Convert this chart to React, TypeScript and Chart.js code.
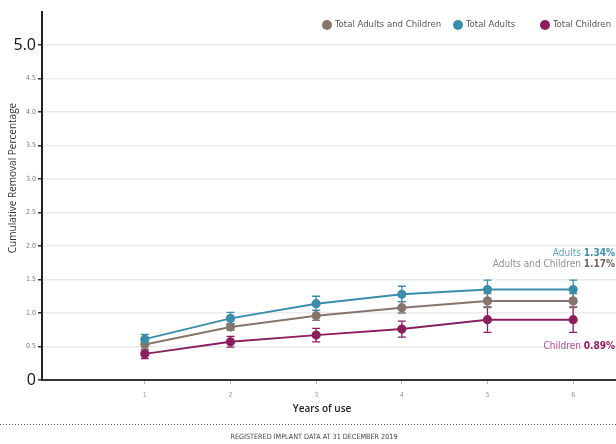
import React, { useEffect, useRef } from "react";
import { Chart, registerables } from "chart.js";

Chart.register(...registerables);

const years = [1, 2, 3, 4, 5, 6];
const yTicks = [0, 0.5, 1, 1.5, 2, 2.5, 3, 3.5, 4, 4.5, 5];

const adults = [0.61, 0.92, 1.14, 1.28, 1.35, 1.35];
const adultsLow = [0.55, 0.84, 1.04, 1.17, 1.22, 1.22];
const adultsHigh = [0.68, 1.01, 1.25, 1.4, 1.49, 1.49];

const allPatients = [0.53, 0.79, 0.96, 1.08, 1.18, 1.18];
const allLow = [0.46, 0.74, 0.89, 1.0, 1.08, 1.08];
const allHigh = [0.59, 0.84, 1.04, 1.17, 1.29, 1.29];

const children = [0.39, 0.57, 0.67, 0.76, 0.9, 0.9];
const childrenLow = [0.32, 0.49, 0.57, 0.64, 0.71, 0.71];
const childrenHigh = [0.45, 0.65, 0.77, 0.88, 1.09, 1.09];

const legendLabels = ["Total Adults and Children", "Total Adults", "Total Children"];
const endLabels = ["Adults", "Adults and Children", "Children"];
const endValues = ["1.34%", "1.17%", "0.89%"];
const endAnchors = [1.89, 1.72, 0.5];

const C_ALL = "#85766d";
const C_AD = "#3a8ea9";
const C_CH = "#8a1f60";

const NARROW = "'Liberation Sans Narrow', 'DejaVu Sans Condensed', 'Open Sans', sans-serif";
const SANS = "'Open Sans', 'Noto Sans', sans-serif";

export default function App() {
  const ref = useRef<HTMLCanvasElement | null>(null);

  useEffect(() => {
    if (!ref.current) return;
    const lows = [allLow, adultsLow, childrenLow];
    const highs = [allHigh, adultsHigh, childrenHigh];
    const colors = [C_ALL, C_AD, C_CH];

    const errorBars = {
      id: "errorBars",
      beforeDatasetsDraw(chart: any) {
        const ctx = chart.ctx;
        const xs = chart.scales.x;
        const ys = chart.scales.y;
        ctx.save();
        [2, 0, 1].forEach((d) => {
          ctx.strokeStyle = colors[d];
          ctx.lineWidth = 1.3;
          years.forEach((yr, i) => {
            const px = xs.getPixelForValue(yr);
            const lo = ys.getPixelForValue(lows[d][i]);
            const hi = ys.getPixelForValue(highs[d][i]);
            ctx.beginPath();
            ctx.moveTo(px, lo);
            ctx.lineTo(px, hi);
            ctx.moveTo(px - 4, lo);
            ctx.lineTo(px + 4, lo);
            ctx.moveTo(px - 4, hi);
            ctx.lineTo(px + 4, hi);
            ctx.stroke();
          });
        });
        ctx.restore();
      },
    };

    const decor = {
      id: "decor",
      afterDraw(chart: any) {
        const ctx = chart.ctx;
        const ys = chart.scales.y;
        const W = chart.width;
        ctx.save();
        // legend
        const legX = [327, 458, 545];
        ctx.font = `9.5px ${NARROW}`;
        ctx.textBaseline = "middle";
        ctx.textAlign = "left";
        legendLabels.forEach((l, i) => {
          ctx.fillStyle = colors[i];
          ctx.beginPath();
          ctx.arc(legX[i], 25, 5, 0, Math.PI * 2);
          ctx.fill();
          ctx.fillStyle = "#555";
          ctx.fillText(l, legX[i] + 8, 25);
        });
        // y title
        ctx.save();
        ctx.translate(13, 178);
        ctx.rotate(-Math.PI / 2);
        ctx.textAlign = "center";
        ctx.fillStyle = "#333";
        ctx.font = `10px ${SANS}`;
        ctx.fillText("Cumulative Removal Percentage", 0, 0);
        ctx.restore();
        // x title
        ctx.textAlign = "center";
        ctx.fillStyle = "#222";
        ctx.font = `600 10px ${SANS}`;
        ctx.fillText("Years of use", 322, 409);
        // dotted line
        ctx.strokeStyle = "#555";
        ctx.lineWidth = 1;
        ctx.setLineDash([1, 2]);
        ctx.beginPath();
        ctx.moveTo(0, 424.5);
        ctx.lineTo(W, 424.5);
        ctx.stroke();
        ctx.setLineDash([]);
        // footer
        ctx.fillStyle = "#444";
        ctx.font = `7.2px ${NARROW}`;
        ctx.fillText("REGISTERED IMPLANT DATA AT 31 DECEMBER 2019", 314, 437);
        // end labels
        const labColors = ["#5ea6bd", "#8f8f8f", "#a8528a"];
        const valColors = [C_AD, "#75665e", C_CH];
        [0, 1, 2].forEach((i) => {
          const y = ys.getPixelForValue(endAnchors[i]);
          ctx.textAlign = "right";
          ctx.font = `bold 10px ${NARROW}`;
          const vw = ctx.measureText(endValues[i]).width;
          ctx.fillStyle = valColors[i];
          ctx.fillText(endValues[i], 615, y);
          ctx.font = `10px ${NARROW}`;
          ctx.fillStyle = labColors[i];
          ctx.fillText(endLabels[i] + " ", 615 - vw, y);
        });
        ctx.restore();
      },
    };

    const mk = (label: string, vals: number[], color: string, order: number) => ({
      label,
      data: years.map((x, i) => ({ x, y: vals[i] })),
      borderColor: color,
      backgroundColor: color,
      pointBackgroundColor: color,
      pointBorderColor: color,
      pointRadius: 3.6,
      borderWidth: 2,
      order,
    });

    const chart = new Chart(ref.current, {
      type: "line",
      data: {
        datasets: [
          mk(legendLabels[0], allPatients, C_ALL, 1),
          mk(legendLabels[1], adults, C_AD, 0),
          mk(legendLabels[2], children, C_CH, 2),
        ],
      },
      options: {
        responsive: false,
        animation: false,
        devicePixelRatio: 1,
        layout: { autoPadding: false, padding: { top: 8, right: 0, left: 0, bottom: 0 } },
        plugins: { legend: { display: false }, tooltip: { enabled: false } },
        scales: {
          x: {
            type: "linear",
            min: -0.2,
            max: 6.5,
            afterBuildTicks: (s: any) => {
              s.ticks = years.map((v) => ({ value: v }));
            },
            afterFit: (s: any) => {
              s.height = 64;
            },
            grid: {
              drawOnChartArea: false,
              drawTicks: true,
              tickLength: 4,
              tickColor: "#bbb",
            },
            border: { color: "#333", width: 2 },
            ticks: {
              color: "#999",
              font: { size: 7, family: NARROW },
              padding: 7,
              callback: (v: any) => String(v),
            },
          },
          y: {
            type: "linear",
            min: 0,
            max: 5.5,
            afterBuildTicks: (s: any) => {
              s.ticks = yTicks.map((v) => ({ value: v }));
            },
            afterFit: (s: any) => {
              s.width = 42;
            },
            grid: {
              color: "#ebebeb",
              lineWidth: 1.5,
              drawTicks: true,
              tickLength: 4,
              tickColor: "#333",
            },
            border: { color: "#222", width: 2 },
            ticks: {
              padding: 2,
              color: (c: any) => (c.tick && (c.tick.value === 0 || c.tick.value === 5) ? "#111" : "#777"),
              font: (c: any) =>
                c.tick && (c.tick.value === 0 || c.tick.value === 5)
                  ? { size: 16, family: SANS }
                  : { size: 7, family: NARROW },
              callback: (v: any) => (v === 0 ? "0" : Number(v).toFixed(1)),
            },
          },
        },
      } as any,
      plugins: [errorBars, decor],
    });
    return () => chart.destroy();
  }, []);

  return (
    <div style={{ position: "fixed", left: 0, top: 0, width: 616, height: 444, background: "#fff" }}>
      <canvas ref={ref} width={616} height={444} />
    </div>
  );
}
